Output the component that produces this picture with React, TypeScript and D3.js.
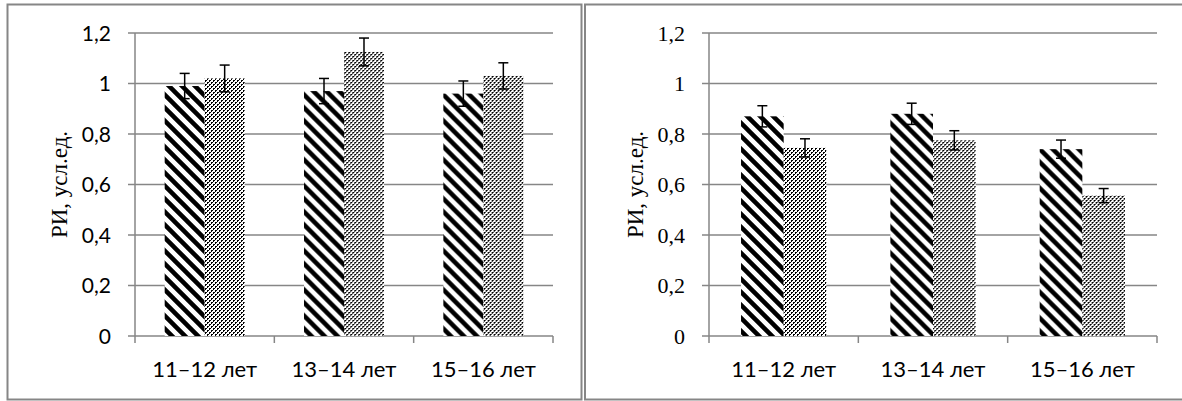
import React from 'react';
import * as d3 from 'd3';

const categories = ['11–12 лет', '13–14 лет', '15–16 лет'];
const series = ['hatched', 'dotted'];
const yTicks = [0, 0.2, 0.4, 0.6, 0.8, 1, 1.2];
const yTitle = 'РИ, усл.ед.';

// left chart
const leftHatched = [0.99, 0.97, 0.96];
const leftHatchedErr = [0.05, 0.05, 0.05];
const leftDotted = [1.02, 1.125, 1.03];
const leftDottedErr = [0.053, 0.055, 0.052];

// right chart
const rightHatched = [0.87, 0.88, 0.74];
const rightHatchedErr = [0.042, 0.042, 0.036];
const rightDotted = [0.745, 0.775, 0.556];
const rightDottedErr = [0.036, 0.038, 0.028];

const W = 1182;
const H = 401;
const grid = '#868686';
const SERIF = "'Liberation Serif', Lato, serif";
const SANS = 'Lato, sans-serif';

const fmt = (v: number) => String(v).replace('.', ',');

const Panel = ({ left, right, top, bottom, groupFrac, tickFamily, tickSize, values, errors, titleX }: any) => {
  const x = d3.scaleBand().domain(categories).range([left, right]);
  const pad = (x.bandwidth() * (1 - groupFrac)) / 2;
  const xs = d3.scaleBand().domain(series).range([pad, x.bandwidth() - pad]);
  const y = d3.scaleLinear().domain([0, 1.2]).range([bottom, top]);
  const fills = ['url(#hatch)', 'url(#dots)'];

  return (
    <g>
      {yTicks.map(t => (
        <g key={t}>
          <line x1={left - 7} x2={right} y1={y(t)} y2={y(t)} stroke={grid} strokeWidth={1.5} />
          <text
            x={left - 24}
            y={y(t)}
            dy="0.36em"
            textAnchor="end"
            style={{ fontFamily: tickFamily, fontSize: tickSize }}
            fill="#000"
          >
            {fmt(t)}
          </text>
        </g>
      ))}
      <line x1={left} x2={left} y1={top} y2={bottom} stroke={grid} strokeWidth={1.5} />
      {categories.map(c => (
        <line key={c} x1={x(c)!} x2={x(c)!} y1={bottom} y2={bottom + 7} stroke={grid} strokeWidth={1.5} />
      ))}
      <line x1={right} x2={right} y1={bottom} y2={bottom + 7} stroke={grid} strokeWidth={1.5} />
      {categories.map((c, i) => (
        <g key={c} transform={`translate(${x(c)},0)`}>
          {series.map((s, j) => {
            const v = values[j][i];
            const e = errors[j][i];
            const bx = xs(s)!;
            const cx = bx + xs.bandwidth() / 2;
            return (
              <g key={s}>
                <rect x={bx} y={y(v)} width={xs.bandwidth()} height={y(0) - y(v)} fill={fills[j]} />
                <line x1={cx} x2={cx} y1={y(v + e)} y2={y(v - e)} stroke="#000" strokeWidth={1.5} />
                <line x1={cx - 5} x2={cx + 5} y1={y(v + e)} y2={y(v + e)} stroke="#000" strokeWidth={1.5} />
                <line x1={cx - 5} x2={cx + 5} y1={y(v - e)} y2={y(v - e)} stroke="#000" strokeWidth={1.5} />
              </g>
            );
          })}
          <text
            x={x.bandwidth() / 2}
            y={bottom + 41}
            textAnchor="middle"
            style={{ fontFamily: SANS, fontSize: 22 }}
            fill="#000"
          >
            {c}
          </text>
        </g>
      ))}
      <text
        transform={`translate(${titleX},${(top + bottom) / 2}) rotate(-90)`}
        textAnchor="middle"
        dy="0.3em"
        style={{ fontFamily: SERIF, fontSize: 23 }}
        fill="#000"
      >
        {yTitle}
      </text>
    </g>
  );
};

export default function App() {
  return (
    <div style={{ position: 'absolute', left: 0, top: 0 }}>
      <svg width={W} height={H} style={{ display: 'block', background: '#fff' }}>
        <defs>
          <pattern id="hatch" patternUnits="userSpaceOnUse" width={13} height={13}>
            <rect width={13} height={13} fill="#fff" />
            <path d="M0,0 L13,13 M-2,11 L2,15 M11,-2 L15,2" stroke="#000" strokeWidth={4.5} />
          </pattern>
          <pattern id="dots" patternUnits="userSpaceOnUse" width={4} height={4}>
            <rect width={4} height={4} fill="#000" />
            <rect x={0} y={0} width={2} height={2} fill="#fff" />
            <rect x={2} y={2} width={2} height={2} fill="#fff" />
            <rect x={1} y={3} width={1} height={1} fill="#fff" />
            <rect x={3} y={1} width={1} height={1} fill="#fff" />
          </pattern>
        </defs>
        <rect x={7.5} y={4.5} width={574} height={395} fill="none" stroke={grid} strokeWidth={2} />
        <rect x={585} y={4.5} width={620} height={395} fill="none" stroke={grid} strokeWidth={2} />
        <Panel
          left={135}
          right={553}
          top={33}
          bottom={336}
          groupFrac={0.574}
          tickFamily={SANS}
          tickSize={21}
          values={[leftHatched, leftDotted]}
          errors={[leftHatchedErr, leftDottedErr]}
          titleX={60}
        />
        <Panel
          left={709}
          right={1157}
          top={33}
          bottom={336}
          groupFrac={0.571}
          tickFamily={SERIF}
          tickSize={22}
          values={[rightHatched, rightDotted]}
          errors={[rightHatchedErr, rightDottedErr]}
          titleX={636}
        />
      </svg>
    </div>
  );
}
